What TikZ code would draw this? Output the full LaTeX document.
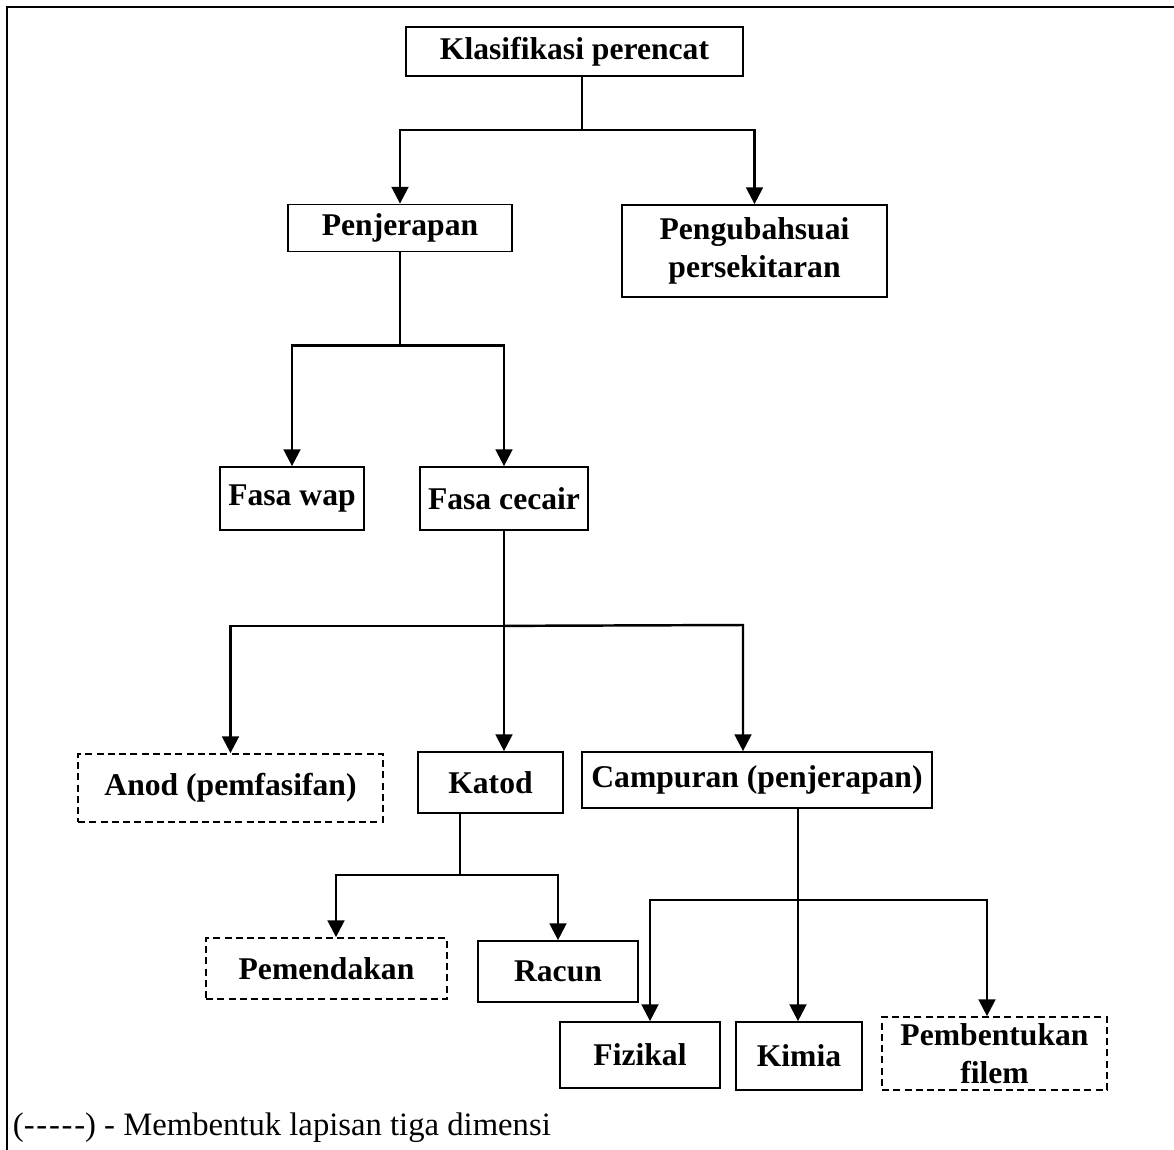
\documentclass[tikz,border=0pt]{standalone}
\usepackage{fontspec}
\setmainfont{Liberation Serif}
\usetikzlibrary{arrows.meta}
\usetikzlibrary{calc}

\begin{document}
\begin{tikzpicture}[x=0.02cm, y=-0.02cm,
  every node/.style={draw, rectangle, line width=1pt, inner sep=2pt, align=center, font=\fontsize{18}{21.6}\selectfont\bfseries},
  layer3d/.style={dash pattern=on 4pt off 2.4pt},
  arr/.style={line width=1.4pt, -{Triangle[length=9.5pt,width=9.5pt]}},
  stem/.style={line width=0.9pt}]
\useasboundingbox (0,0) rectangle (1174,1150);
\draw[line width=1.3pt] (7,1150) -- (7,7) -- (1174,7);
% level 0 and 1
\node[minimum width=6.74cm, minimum height=0.98cm] (Klas) at (574.5,51.5) {Klasifikasi perencat};
\node[minimum width=4.48cm, minimum height=0.94cm] (Penj) at (400,228) {Penjerapan};
\node[minimum width=5.30cm, minimum height=1.84cm] (Peng) at (754.5,251) {Pengubahsuai\\persekitaran};
% level 2
\node[minimum width=2.88cm, minimum height=1.26cm] (FWap) at (292,498.5) {Fasa wap};
\node[minimum width=3.36cm, minimum height=1.26cm] (FCec) at (504,498.5) {Fasa cecair};
% level 3
\node[layer3d, minimum width=6.10cm, minimum height=1.36cm] (Anod) at (230.5,788) {Anod (pemfasifan)};
\node[minimum width=2.90cm, minimum height=1.22cm] (Katod) at (490.5,782.5) {Katod};
\node[minimum width=7.00cm, minimum height=1.12cm] (Camp) at (757,780) {Campuran (penjerapan)};
% level 4
\node[layer3d, minimum width=4.82cm, minimum height=1.22cm] (Pemend) at (326.5,968.5) {Pemendakan};
\node[minimum width=3.20cm, minimum height=1.22cm] (Racun) at (558,971.5) {Racun};
\node[minimum width=3.20cm, minimum height=1.32cm] (Fiz) at (640,1055) {Fizikal};
\node[minimum width=2.52cm, minimum height=1.36cm] (Kimia) at (799,1056) {Kimia};
\node[layer3d, minimum width=4.50cm, minimum height=1.46cm] (Pemb) at (994.5,1053.5) {Pembentukan\\filem};
% legend
\node[draw=none, inner sep=0pt, anchor=base west, font=\fontsize{18.6}{22}\selectfont] (Legend) at (12,1135) {(-\kern1pt-\kern1pt-\kern1pt-\kern1pt-) - Membentuk lapisan tiga dimensi};

% connectors
\coordinate (J1) at (582,130);
\draw[stem] (Klas.south -| J1) -- (J1);
\draw[arr] (J1) -| (Penj.north);
\draw[arr] (J1) -| (Peng.north);

\coordinate (J2) at ($(Penj.south)+(0,93)$);
\draw[stem] (Penj.south) -- (J2);
\draw[arr] (J2) -| (FWap.north);
\draw[arr] (J2) -| (FCec.north);

\coordinate (J3) at ($(FCec.south)+(0,95)$);
\coordinate (B3) at (743,625);
\draw[stem] (FCec.south) -- (J3);
\draw[arr] (J3) -| (Anod.north);
\draw[arr] (J3) -- (J3 |- Katod.north);
\draw[arr] (J3) -- (B3) -- (B3 |- Camp.north);

\coordinate (J4) at (460,875);
\coordinate (B4) at (336,875);
\draw[stem] (J4 |- Katod.south) -- (J4);
\draw[arr] (J4) -- (B4) -- (B4 |- Pemend.north);
\draw[arr] (J4) -| (Racun.north);

\coordinate (J5) at (798,900);
\coordinate (B51) at (650,900);
\coordinate (B53) at (987,900);
\draw[stem] (J5 |- Camp.south) -- (J5);
\draw[arr] (J5) -- (B51) -- (B51 |- Fiz.north);
\draw[arr] (J5) -- (J5 |- Kimia.north);
\draw[arr] (J5) -- (B53) -- (B53 |- Pemb.north);
\end{tikzpicture}
\end{document}
